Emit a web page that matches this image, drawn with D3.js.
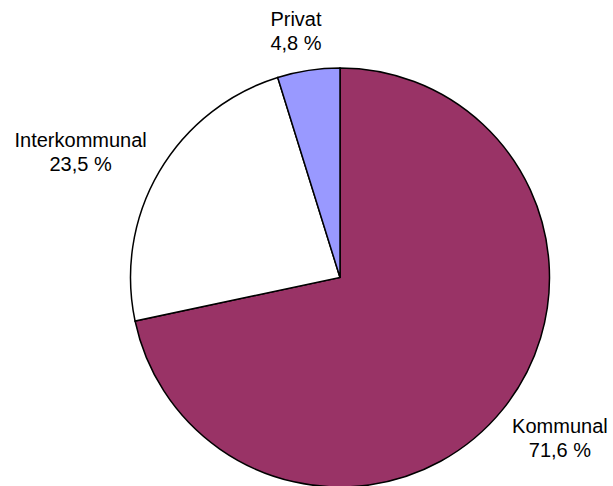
<!DOCTYPE html>
<html>
<head>
<meta charset="utf-8">
<script src="https://cdn.jsdelivr.net/npm/d3@7"></script>
<style>
  body { margin: 0; background: #fff; }
  svg text { font-family: "Liberation Sans", Arial, sans-serif; font-size: 20px; fill: #000; }
</style>
</head>
<body>
<svg width="613" height="486"></svg>
<script>
// values
var categories = ["Kommunal", "Interkommunal", "Privat"];
var shares = [71.6, 23.5, 4.8];
var colors = ["#993366", "#ffffff", "#9999ff"];

var svg = d3.select("svg"),
    cx = 340,
    cy = 277.5,
    radius = 209.5;

var data = categories.map(function (c, i) {
    return { name: c, value: shares[i], color: colors[i] };
});

var pie = d3.pie()
    .sort(null)
    .value(function (d) { return d.value; });

var arc = d3.arc()
    .innerRadius(0)
    .outerRadius(radius);

var g = svg.append("g")
    .attr("transform", "translate(" + cx + "," + cy + ")");

var arcs = pie(data);

g.selectAll("path")
    .data(arcs)
    .enter().append("path")
    .attr("d", arc)
    .attr("fill", function (d) { return d.data.color; })
    .attr("stroke", "#000")
    .attr("stroke-width", 1.5)
    .attr("stroke-linejoin", "miter");

// labels sit just outside the rim, box pushed away along the mid angle
var gap = 18, lineH = 24, pad = 6;
var fmt = function (v) { return v.toFixed(1).replace(".", ",") + " %"; };

var label = g.selectAll("g.label")
    .data(arcs)
    .enter().append("g")
    .attr("class", "label");

label.each(function (d) {
    var sel = d3.select(this);
    var t1 = sel.append("text").attr("text-anchor", "middle").text(d.data.name);
    var t2 = sel.append("text").attr("text-anchor", "middle").text(fmt(d.data.value));
    var w = Math.max(t1.node().getComputedTextLength(), t2.node().getComputedTextLength());
    var h = lineH * 2;
    var a = (d.startAngle + d.endAngle) / 2;
    var r = radius + gap;
    var s = Math.sin(a), c = Math.cos(a);
    var x = s * r + s * w / 2 + (s < 0 ? -pad : pad);
    var y = -c * r - c * h / 2;
    t1.attr("x", x).attr("y", y - 3);
    t2.attr("x", x).attr("y", y - 3 + lineH);
});
</script>
</body>
</html>
